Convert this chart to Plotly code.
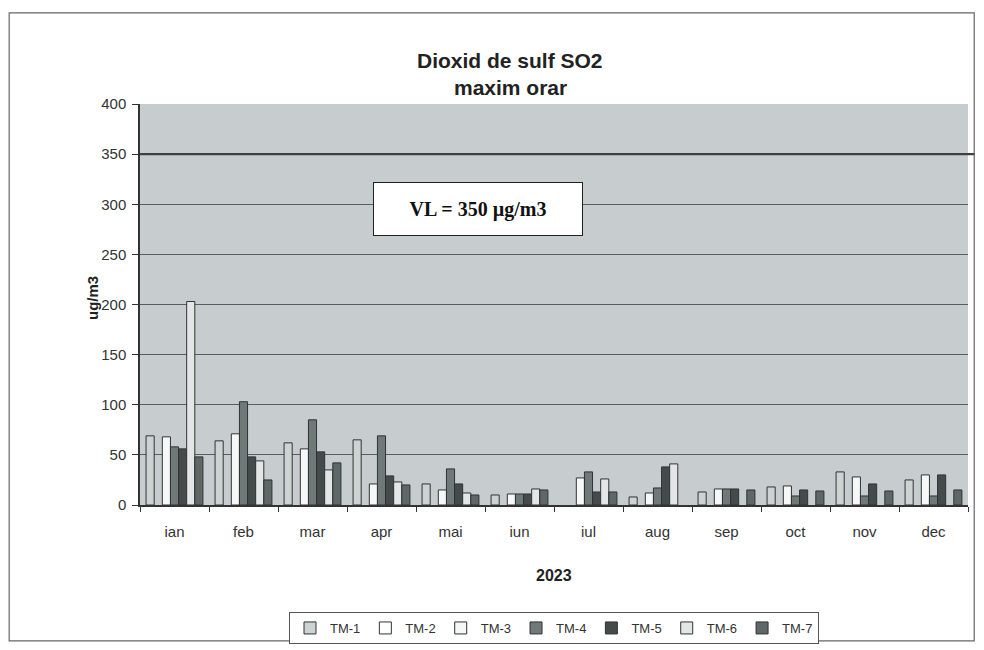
import plotly.graph_objects as go

# luni
months = ["ian", "feb", "mar", "apr", "mai", "iun", "iul", "aug", "sep", "oct", "nov", "dec"]

# maxim orar SO2 (ug/m3) pe statii; None = fara date
tm1 = [69, 64, 62, 65, 21, 10, None, 8, 13, 18, 33, 25]
tm2 = [None] * 12
tm3 = [68, 71, 56, 21, 15, 11, 27, 12, 16, 19, 28, 30]
tm4 = [58, 103, 85, 69, 36, 11, 33, 17, 16, 9, 9, 9]
tm5 = [56, 48, 53, 29, 21, 11, 13, 38, 16, 15, 21, 30]
tm6 = [203, 44, 35, 23, 12, 16, 26, 41, None, None, None, None]
tm7 = [48, 25, 42, 20, 10, 15, 13, None, 15, 14, 14, 15]

series = {"TM-1": tm1, "TM-2": tm2, "TM-3": tm3, "TM-4": tm4,
          "TM-5": tm5, "TM-6": tm6, "TM-7": tm7}
colors = {"TM-1": "#cdd2d2", "TM-2": "#ffffff", "TM-3": "#f6f7f7", "TM-4": "#717878",
          "TM-5": "#454b4b", "TM-6": "#e2e6e6", "TM-7": "#5f6767"}

VL = 350  # valoare limita

fig = go.Figure()
for name, vals in series.items():
    fig.add_trace(go.Bar(
        name=name, x=months, y=vals,
        marker=dict(color=colors[name], line=dict(color="#2f3434", width=1)),
    ))

font = "Liberation Sans, Arial, sans-serif"

# pagina are margine de 8px, deci figura e 976x642
fig.update_layout(
    width=976, height=642,
    paper_bgcolor="white",
    plot_bgcolor="#c7cdce",
    barmode="group",
    bargap=0.176,
    bargroupgap=0,
    margin=dict(l=132, r=16, t=96, b=145),
    font=dict(family=font, size=15, color="#333"),
    showlegend=True,
    legend=dict(
        orientation="h", x=0.5, xanchor="center",
        yref="container", y=1 - (612 - 8) / 642, yanchor="top",
        bordercolor="#555", borderwidth=1, bgcolor="white",
        font=dict(family=font, size=13, color="#333"),
        itemwidth=30, traceorder="normal",
    ),
    xaxis=dict(
        type="category", tickson="boundaries", ticks="outside", ticklen=5,
        tickcolor="#333", showline=True, linecolor="#333", linewidth=1.5,
        showgrid=False, ticklabelstandoff=12, automargin=False,
    ),
    yaxis=dict(
        range=[0, 400], dtick=50, ticks="outside", ticklen=6, tickcolor="#333",
        showline=True, linecolor="#333", linewidth=1.5,
        showgrid=True, gridcolor="#585e5e", gridwidth=1.3,
        zeroline=False, ticklabelstandoff=3, automargin=False,
    ),
    shapes=[
        # linia valorii limita
        dict(type="line", xref="paper", yref="y", x0=0, x1=1.0085, y0=VL, y1=VL,
             line=dict(color="#3c4141", width=2.2)),
        # chenarul graficului
        dict(type="rect", xref="paper", yref="paper",
             x0=-0.158, x1=1.0075, y0=-0.339, y1=1.227,
             line=dict(color="#666", width=1.2)),
    ],
    annotations=[
        dict(text="<b>Dioxid de sulf SO2</b>", xref="paper", yref="paper",
             x=0.447, y=(505 - 61) / 401, showarrow=False, yanchor="middle",
             font=dict(family=font, size=21, color="#222")),
        dict(text="<b>maxim orar</b>", xref="paper", yref="paper",
             x=0.447, y=(505 - 87) / 401, showarrow=False, yanchor="middle",
             font=dict(family=font, size=21, color="#222")),
        dict(text="<b>ug/m3</b>", xref="paper", yref="paper", textangle=-90,
             x=(92 - 140) / 828, y=(505 - 298) / 401, showarrow=False,
             xanchor="center", yanchor="middle",
             font=dict(family=font, size=15, color="#222")),
        dict(text="<b>2023</b>", xref="paper", yref="paper",
             x=0.5, y=(505 - 575) / 401, showarrow=False, yanchor="middle",
             font=dict(family=font, size=16, color="#222")),
        dict(text="<b>VL = 350 µg/m3</b>", xref="paper", yref="y",
             x=0.408, y=295, showarrow=False,
             font=dict(family="Liberation Serif, Times New Roman, serif", size=20, color="#111"),
             bgcolor="white", bordercolor="#222", borderwidth=1,
             width=206, height=50),
    ],
)

fig.write_html("out.html")
